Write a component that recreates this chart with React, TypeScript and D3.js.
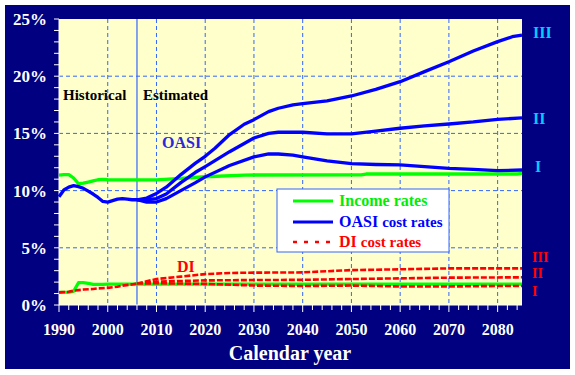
import React from "react";
import * as d3 from "d3";

type P = [number, number];

const oasiIncome: P[] = [[1990,11.35],[1991,11.4],[1992,11.4],[1993,11.1],[1994,10.6],[1995,10.65],[1996,10.75],[1997,10.85],[1998,10.95],[1999,10.98],[2000,10.95],[2010,10.93],[2015,11.07],[2020,11.21],[2028,11.36],[2052,11.38],[2053,11.45],[2084,11.45],[2085,11.5]];
const oasiCostHist: P[] = [[1990,9.47],[1991,10.05],[1992,10.3],[1993,10.43],[1994,10.35],[1995,10.2],[1996,9.95],[1997,9.7],[1998,9.4],[1999,9.05],[2000,9.0],[2001,9.12],[2002,9.25],[2003,9.3],[2004,9.25],[2005,9.2],[2006,9.2]];
const oasiCostIII: P[] = [[2006,9.2],[2008,9.35],[2010,9.75],[2012,10.3],[2015,11.4],[2018,12.4],[2020,13.0],[2022,13.7],[2025,14.9],[2028,15.8],[2030,16.2],[2033,16.9],[2035,17.2],[2038,17.5],[2040,17.6],[2045,17.85],[2050,18.27],[2055,18.85],[2060,19.52],[2065,20.4],[2070,21.27],[2075,22.2],[2080,23.02],[2083,23.45],[2085,23.6]];
const oasiCostII: P[] = [[2006,9.2],[2008,9.2],[2010,9.3],[2012,9.7],[2015,10.7],[2018,11.6],[2020,12.1],[2025,13.4],[2030,14.6],[2033,15.0],[2035,15.1],[2040,15.1],[2045,14.95],[2050,14.95],[2055,15.2],[2060,15.45],[2065,15.65],[2070,15.82],[2075,16.0],[2080,16.23],[2085,16.35]];
const oasiCostI: P[] = [[2006,9.2],[2008,9.0],[2010,9.0],[2012,9.3],[2015,10.0],[2018,10.7],[2020,11.2],[2025,12.2],[2030,12.95],[2033,13.2],[2035,13.2],[2038,13.1],[2040,12.95],[2045,12.6],[2050,12.35],[2055,12.28],[2060,12.24],[2065,12.1],[2070,11.95],[2075,11.85],[2080,11.74],[2085,11.8]];

const diIncome: P[] = [[1990,1.1],[1992,1.12],[1993,1.2],[1994,1.95],[1995,1.95],[1996,1.9],[1997,1.8],[1999,1.8],[2000,1.82],[2085,1.82]];
const diCostHist: P[] = [[1990,1.1],[1992,1.15],[1993,1.25],[1994,1.3],[1995,1.35],[1997,1.4],[1998,1.45],[2000,1.5],[2002,1.6],[2003,1.69],[2005,1.8],[2006,1.88]];
const diCostIII: P[] = [[2006,1.88],[2010,2.27],[2015,2.48],[2020,2.7],[2025,2.8],[2030,2.83],[2040,2.85],[2045,2.95],[2050,3.05],[2060,3.12],[2070,3.2],[2085,3.2]];
const diCostII: P[] = [[2006,1.88],[2010,2.04],[2015,2.1],[2020,2.15],[2030,2.18],[2040,2.2],[2050,2.27],[2060,2.33],[2070,2.39],[2085,2.42]];
const diCostI: P[] = [[2006,1.88],[2010,1.9],[2020,1.85],[2030,1.7],[2040,1.66],[2050,1.7],[2060,1.62],[2070,1.62],[2080,1.66],[2085,1.66]];

const xTickYears = [1990, 2000, 2010, 2020, 2030, 2040, 2050, 2060, 2070, 2080];
const yTickValues = [0, 5, 10, 15, 20, 25];
const alternativeLabels = ["III", "II", "I"];
const legendLabels = ["Income rates", "OASI", "DI"];

const FONT = "'Liberation Serif', 'Times New Roman', serif";

export default function App() {
  const left = 59, right = 522, top = 19, bottom = 305;
  const x = d3.scaleLinear().domain([1990, 2085]).range([left, right]);
  const y = d3.scaleLinear().domain([0, 25]).range([bottom, top]);
  const line = d3.line<P>().x((d) => x(d[0])).y((d) => y(d[1]));

  const minorX = d3.range(1990, 2085, 2);
  const minorY = d3.range(0, 26, 1);
  const grid = "#3366ff";

  return (
    <svg width={575} height={375} style={{ position: "absolute", left: 0, top: 0, background: "#fff" }} fontFamily={FONT}>
      <rect x={5} y={5} width={565} height={364} fill="#000080" />
      <rect x={left} y={top} width={right - left} height={bottom - top} fill="#ffffcc" />
      {xTickYears.filter((v) => v > 1990).map((v) => (
        <line key={"gx" + v} x1={x(v)} x2={x(v)} y1={top} y2={bottom} stroke={grid} strokeWidth={1} strokeDasharray="4,3" />
      ))}
      {yTickValues.filter((v) => v > 0 && v < 25).map((v) => (
        <line key={"gy" + v} x1={left} x2={right} y1={y(v)} y2={y(v)} stroke={grid} strokeWidth={1} strokeDasharray="4,3" />
      ))}
      <line x1={x(2006)} x2={x(2006)} y1={top} y2={bottom} stroke={grid} strokeWidth={1.2} />

      {/* axes */}
      <line x1={left} x2={left} y1={top} y2={bottom} stroke="#fff" strokeWidth={1} />
      <line x1={left} x2={right} y1={bottom} y2={bottom} stroke="#fff" strokeWidth={1} />
      {minorY.map((v) => (
        <line key={"ty" + v} x1={left - 5} x2={left} y1={y(v)} y2={y(v)} stroke="#fff" strokeWidth={1} />
      ))}
      {minorX.map((v) => (
        <line key={"tx" + v} x1={x(v)} x2={x(v)} y1={bottom} y2={bottom + (v % 10 === 0 ? 7 : 5)} stroke="#fff" strokeWidth={1} />
      ))}
      {yTickValues.map((v) => (
        <text key={"ly" + v} x={47} y={y(v) + 6} textAnchor="end" fill="#fff" fontWeight="bold" fontSize={17}>{v}%</text>
      ))}
      {xTickYears.map((v) => (
        <text key={"lx" + v} x={x(v)} y={335} textAnchor="middle" fill="#fff" fontWeight="bold" fontSize={16}>{v}</text>
      ))}
      <text x={290} y={360} textAnchor="middle" fill="#fff" fontWeight="bold" fontSize={20}>Calendar year</text>

      {/* series */}
      <g fill="none" strokeLinejoin="round">
        <path d={line(diCostIII) || ""} stroke="#ff0000" strokeWidth={2.6} strokeDasharray="6,2" />
        <path d={line(diCostII) || ""} stroke="#ff0000" strokeWidth={2.6} strokeDasharray="6,2" />
        <path d={line(diIncome) || ""} stroke="#00ff00" strokeWidth={3.3} />
        <path d={line(diCostI) || ""} stroke="#ff0000" strokeWidth={2.6} strokeDasharray="6,2" />
        <path d={line(diCostHist) || ""} stroke="#ff0000" strokeWidth={2.6} strokeDasharray="6,2" />
        <path d={line(oasiIncome) || ""} stroke="#00ff00" strokeWidth={3.3} />
        <path d={line(oasiCostHist) || ""} stroke="#0000ff" strokeWidth={3.3} />
        <path d={line(oasiCostIII) || ""} stroke="#0000ff" strokeWidth={3.3} />
        <path d={line(oasiCostII) || ""} stroke="#0000ff" strokeWidth={3.3} />
        <path d={line(oasiCostI) || ""} stroke="#0000ff" strokeWidth={3.3} />
      </g>

      {/* annotations */}
      <text x={63} y={100} fill="#000" fontWeight="bold" fontSize={15}>Historical</text>
      <text x={143} y={100} fill="#000" fontWeight="bold" fontSize={15}>Estimated</text>
      <text x={162} y={148} fill="#2a2ad8" fontWeight="bold" fontSize={16}>OASI</text>
      <text x={177} y={272} fill="#ff0000" fontWeight="bold" fontSize={16}>DI</text>

      {/* legend */}
      <rect x={277} y={189} width={172} height={63} fill="#fff" stroke={grid} strokeWidth={1} />
      <line x1={293} x2={333} y1={201} y2={201} stroke="#00ff00" strokeWidth={3} />
      <line x1={293} x2={333} y1={222} y2={222} stroke="#0000ff" strokeWidth={3} />
      <line x1={293} x2={333} y1={242} y2={242} stroke="#ff0000" strokeWidth={2.5} strokeDasharray="4,7" />
      <text x={339} y={206} fill="#00ee00" fontWeight="bold" fontSize={16}>{legendLabels[0]}</text>
      <text x={339} y={227} fill="#0000ff" fontWeight="bold" fontSize={16}>{legendLabels[1]} <tspan fontSize={15}>cost rates</tspan></text>
      <text x={339} y={247} fill="#ff0000" fontWeight="bold" fontSize={16}>{legendLabels[2]} <tspan fontSize={15}>cost rates</tspan></text>

      {/* alternative labels */}
      <text x={533} y={38} fill="#00ccff" fontWeight="bold" fontSize={16}>{alternativeLabels[0]}</text>
      <text x={533} y={124} fill="#00ccff" fontWeight="bold" fontSize={16}>{alternativeLabels[1]}</text>
      <text x={535} y={172} fill="#00ccff" fontWeight="bold" fontSize={16}>{alternativeLabels[2]}</text>
      <text x={532} y={262} fill="#ff0000" fontWeight="bold" fontSize={14}>{alternativeLabels[0]}</text>
      <text x={532} y={278} fill="#ff0000" fontWeight="bold" fontSize={14}>{alternativeLabels[1]}</text>
      <text x={532} y={296} fill="#ff0000" fontWeight="bold" fontSize={14}>{alternativeLabels[2]}</text>
    </svg>
  );
}
